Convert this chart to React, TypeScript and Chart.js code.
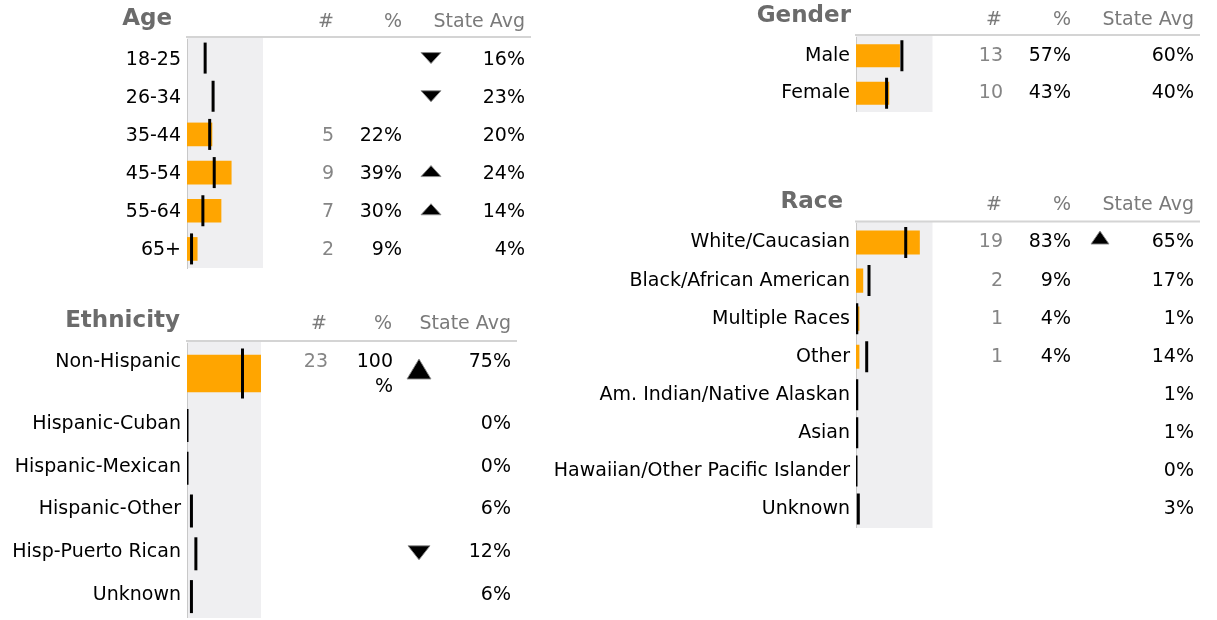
import React, { useEffect, useRef } from 'react';
import { Chart, registerables } from 'chart.js';

Chart.register(...registerables);

const FONT = '"DejaVu Sans", Verdana, sans-serif';

type Trend = 'up' | 'down' | null;

// ---------------- DATA ----------------
const HEADERS = ['#', '%', 'State Avg'];

const AGE_LABELS = ['18-25', '26-34', '35-44', '45-54', '55-64', '65+'];
const AGE_COUNT: (number | null)[] = [null, null, 5, 9, 7, 2];
const AGE_PCT: (number | null)[] = [null, null, 0.22, 0.39, 0.3, 0.09];
const AGE_STATE = [0.16, 0.23, 0.2, 0.24, 0.14, 0.04];
const AGE_TREND: Trend[] = ['down', 'down', null, 'up', 'up', null];

const ETH_LABELS = ['Non-Hispanic', 'Hispanic-Cuban', 'Hispanic-Mexican', 'Hispanic-Other', 'Hisp-Puerto Rican', 'Unknown'];
const ETH_COUNT: (number | null)[] = [23, null, null, null, null, null];
const ETH_PCT: (number | null)[] = [1.0, null, null, null, null, null];
const ETH_STATE = [0.75, 0, 0, 0.06, 0.12, 0.06];
const ETH_TREND: Trend[] = ['up', null, null, null, 'down', null];

const GENDER_LABELS = ['Male', 'Female'];
const GENDER_COUNT: (number | null)[] = [13, 10];
const GENDER_PCT: (number | null)[] = [0.57, 0.43];
const GENDER_STATE = [0.6, 0.4];
const GENDER_TREND: Trend[] = [null, null];

const RACE_LABELS = ['White/Caucasian', 'Black/African American', 'Multiple Races', 'Other', 'Am. Indian/Native Alaskan', 'Asian', 'Hawaiian/Other Pacific Islander', 'Unknown'];
const RACE_COUNT: (number | null)[] = [19, 2, 1, 1, null, null, null, null];
const RACE_PCT: (number | null)[] = [0.83, 0.09, 0.04, 0.04, null, null, null, null];
const RACE_STATE = [0.65, 0.17, 0.01, 0.14, 0.01, 0.01, 0.0, 0.03];
const RACE_TREND: Trend[] = ['up', null, null, null, null, null, null, null];

// ---------------- LAYOUT ----------------
interface Header {
  title: string; titleRight: number; titleY: number; headY: number;
  heads: number[]; lineY: number; lineRight: number;
}
interface PanelSpec {
  id: string;
  left: number; top: number; width: number; height: number;
  area: { left: number; top: number; right: number; bottom: number };
  xMax: number;
  labels: string[];
  counts: (number | null)[];
  pcts: (number | null)[];
  state: number[];
  trend: Trend[];
  barThickness: number;
  tickRadius: number;
  textDy: number;
  tri: { w: number; h: number; upDy: number; downDy: number };
  cols: { count: number; pct: number; trend: number; state: number; pctMaxWidth: number };
  header?: Header;
}

const AGE_COLS = { count: 334, pct: 402, trend: 431, state: 525, pctMaxWidth: 60 };
const ETH_COLS = { count: 328, pct: 393, trend: 419, state: 511, pctMaxWidth: 45 };
const RIGHT_COLS = { count: 1003, pct: 1071, trend: 1100, state: 1194, pctMaxWidth: 60 };

const PANELS: PanelSpec[] = [
  {
    id: 'age', left: 0, top: 0, width: 540, height: 270,
    area: { left: 187, top: 39, right: 263, bottom: 268 },
    xMax: 0.67,
    labels: AGE_LABELS, counts: AGE_COUNT, pcts: AGE_PCT, state: AGE_STATE, trend: AGE_TREND,
    barThickness: 23, tickRadius: 15.5, textDy: 1.5,
    tri: { w: 20, h: 11, upDy: -1.5, downDy: 0 },
    cols: AGE_COLS,
    header: { title: 'Age', titleRight: 172, titleY: 18.8, headY: 22, heads: [334, 402, 525], lineY: 37, lineRight: 531 },
  },
  {
    id: 'ethA', left: 0, top: 300, width: 540, height: 104,
    area: { left: 187, top: 343, right: 261, bottom: 404 },
    xMax: 1.0,
    labels: ETH_LABELS.slice(0, 1), counts: ETH_COUNT.slice(0, 1), pcts: ETH_PCT.slice(0, 1),
    state: ETH_STATE.slice(0, 1), trend: ETH_TREND.slice(0, 1),
    barThickness: 37, tickRadius: 25, textDy: -11,
    tri: { w: 24, h: 20, upDy: -4.5, downDy: 0 },
    cols: ETH_COLS,
    header: { title: 'Ethnicity', titleRight: 180, titleY: 321.5, headY: 324, heads: [327, 392, 511], lineY: 341, lineRight: 517 },
  },
  {
    id: 'ethB', left: 0, top: 404, width: 540, height: 214,
    area: { left: 187, top: 404, right: 261, bottom: 618 },
    xMax: 1.0,
    labels: ETH_LABELS.slice(1), counts: ETH_COUNT.slice(1), pcts: ETH_PCT.slice(1),
    state: ETH_STATE.slice(1), trend: ETH_TREND.slice(1),
    barThickness: 23, tickRadius: 16.5, textDy: -1.5,
    tri: { w: 22, h: 14, upDy: -3, downDy: -1 },
    cols: ETH_COLS,
  },
  {
    id: 'gender', left: 540, top: 0, width: 677, height: 112,
    area: { left: 856, top: 37, right: 932.5, bottom: 112 },
    xMax: 1.0,
    labels: GENDER_LABELS, counts: GENDER_COUNT, pcts: GENDER_PCT, state: GENDER_STATE, trend: GENDER_TREND,
    barThickness: 22.5, tickRadius: 15.5, textDy: 0,
    tri: { w: 18, h: 13, upDy: -4, downDy: 0 },
    cols: RIGHT_COLS,
    header: { title: 'Gender', titleRight: 851, titleY: 16.2, headY: 19.8, heads: [1002, 1071, 1194], lineY: 35, lineRight: 1200 },
  },
  {
    id: 'race', left: 540, top: 180, width: 677, height: 348,
    area: { left: 856, top: 223.5, right: 932.5, bottom: 528 },
    xMax: 1.0,
    labels: RACE_LABELS, counts: RACE_COUNT, pcts: RACE_PCT, state: RACE_STATE, trend: RACE_TREND,
    barThickness: 23.5, tickRadius: 15.5, textDy: 0,
    tri: { w: 18, h: 13, upDy: -5, downDy: 0 },
    cols: RIGHT_COLS,
    header: { title: 'Race', titleRight: 843, titleY: 202.5, headY: 205.5, heads: [1002, 1071, 1194], lineY: 221.5, lineRight: 1200 },
  },
];

const fmtPct = (v: number) => `${Math.round(v * 100)}%`;

function drawTri(ctx: CanvasRenderingContext2D, cx: number, cy: number, w: number, h: number, dir: 'up' | 'down') {
  ctx.beginPath();
  if (dir === 'up') {
    ctx.moveTo(cx, cy - h / 2);
    ctx.lineTo(cx + w / 2, cy + h / 2);
    ctx.lineTo(cx - w / 2, cy + h / 2);
  } else {
    ctx.moveTo(cx - w / 2, cy - h / 2);
    ctx.lineTo(cx + w / 2, cy - h / 2);
    ctx.lineTo(cx, cy + h / 2);
  }
  ctx.closePath();
  ctx.fillStyle = '#000';
  ctx.fill();
  ctx.strokeStyle = 'rgba(140,140,140,0.9)';
  ctx.lineWidth = 1;
  ctx.stroke();
}

function panelPlugin(spec: PanelSpec) {
  const ox = spec.left;
  const oy = spec.top;
  return {
    id: 'panel_' + spec.id,
    beforeDraw(chart: any) {
      const { ctx, chartArea: a } = chart;
      const top = spec.header ? spec.header.lineY - oy : a.top;
      ctx.save();
      ctx.fillStyle = '#efeff1';
      ctx.fillRect(a.left, top, a.right - a.left, a.bottom - top);
      ctx.restore();
    },
    afterDraw(chart: any) {
      const { ctx, chartArea: a } = chart;
      const yScale = chart.scales.y;
      ctx.save();
      if (spec.header) {
        const h = spec.header;
        ctx.strokeStyle = '#d4d4d4';
        ctx.lineWidth = 2;
        ctx.beginPath();
        ctx.moveTo(a.left - 1, h.lineY - oy);
        ctx.lineTo(h.lineRight - ox, h.lineY - oy);
        ctx.stroke();

        ctx.textAlign = 'right';
        ctx.textBaseline = 'middle';
        ctx.font = `bold 23px ${FONT}`;
        ctx.fillStyle = '#6b6b6b';
        ctx.fillText(h.title, h.titleRight - ox, h.titleY - oy);

        ctx.font = `19px ${FONT}`;
        ctx.fillStyle = '#7a7a7a';
        HEADERS.forEach((t, i) => ctx.fillText(t, h.heads[i] - ox, h.headY - oy));
      }

      ctx.font = `19px ${FONT}`;
      ctx.textAlign = 'right';
      ctx.textBaseline = 'middle';
      spec.labels.forEach((_, i) => {
        const rowY = yScale.getPixelForValue(i);
        const y = rowY + spec.textDy;
        const c = spec.counts[i];
        if (c !== null && c !== undefined) {
          ctx.fillStyle = '#858585';
          ctx.fillText(String(c), spec.cols.count - ox, y);
        }
        const p = spec.pcts[i];
        if (p !== null && p !== undefined) {
          ctx.fillStyle = '#000';
          const txt = fmtPct(p);
          if (ctx.measureText(txt).width > spec.cols.pctMaxWidth) {
            ctx.fillText(txt.slice(0, -1), spec.cols.pct - ox, y);
            ctx.fillText('%', spec.cols.pct - ox, y + 24.5);
          } else {
            ctx.fillText(txt, spec.cols.pct - ox, y);
          }
        }
        ctx.fillStyle = '#000';
        ctx.fillText(fmtPct(spec.state[i]), spec.cols.state - ox, y);
        const t = spec.trend[i];
        if (t) {
          const dy = t === 'up' ? spec.tri.upDy : spec.tri.downDy;
          drawTri(ctx, spec.cols.trend - ox, rowY + dy, spec.tri.w, spec.tri.h, t);
        }
      });
      ctx.restore();
    },
  };
}

function Panel({ spec }: { spec: PanelSpec }) {
  const ref = useRef<HTMLCanvasElement | null>(null);
  useEffect(() => {
    if (!ref.current) return;
    const yw = spec.area.left - spec.left;
    const chart = new Chart(ref.current, {
      type: 'bar',
      data: {
        labels: spec.labels,
        datasets: [
          {
            type: 'line',
            data: spec.state,
            indexAxis: 'y',
            showLine: false,
            pointStyle: 'line',
            pointRotation: 90,
            pointRadius: spec.tickRadius,
            pointHoverRadius: spec.tickRadius,
            pointBorderWidth: 3,
            pointBorderColor: '#000',
            pointBackgroundColor: '#000',
            borderColor: '#000',
            clip: { left: 0, right: 0, top: 20, bottom: 20 },
            order: 0,
          } as any,
          {
            type: 'bar',
            data: spec.pcts as any,
            backgroundColor: '#ffa500',
            borderWidth: 0,
            barThickness: spec.barThickness,
            order: 1,
          },
        ],
      },
      options: {
        indexAxis: 'y',
        responsive: false,
        animation: false,
        devicePixelRatio: 1,
        events: [],
        layout: {
          autoPadding: false,
          padding: {
            left: 0,
            top: spec.area.top - spec.top,
            right: spec.left + spec.width - spec.area.right,
            bottom: spec.top + spec.height - spec.area.bottom,
          },
        },
        plugins: { legend: { display: false }, tooltip: { enabled: false } },
        scales: {
          x: { display: false, min: 0, max: spec.xMax },
          y: {
            grid: { display: false, drawTicks: false },
            border: { display: true, color: '#c8c8c8', width: 1 },
            ticks: {
              font: { family: FONT, size: 19 },
              color: '#000',
              padding: 6,
              labelOffset: spec.textDy,
              autoSkip: false,
            },
            afterFit: (s: any) => {
              s.width = yw;
              s.paddingTop = 0;
              s.paddingBottom = 0;
            },
          },
        },
      } as any,
      plugins: [panelPlugin(spec)],
    });
    return () => chart.destroy();
  }, [spec]);
  return (
    <canvas
      ref={ref}
      width={spec.width}
      height={spec.height}
      style={{ position: 'absolute', left: spec.left, top: spec.top, width: spec.width, height: spec.height }}
    />
  );
}

export default function App() {
  return (
    <div style={{ position: 'absolute', left: 0, top: 0, width: 1217, height: 620, background: '#fff', overflow: 'hidden' }}>
      {PANELS.map((p) => (
        <Panel key={p.id} spec={p} />
      ))}
    </div>
  );
}
